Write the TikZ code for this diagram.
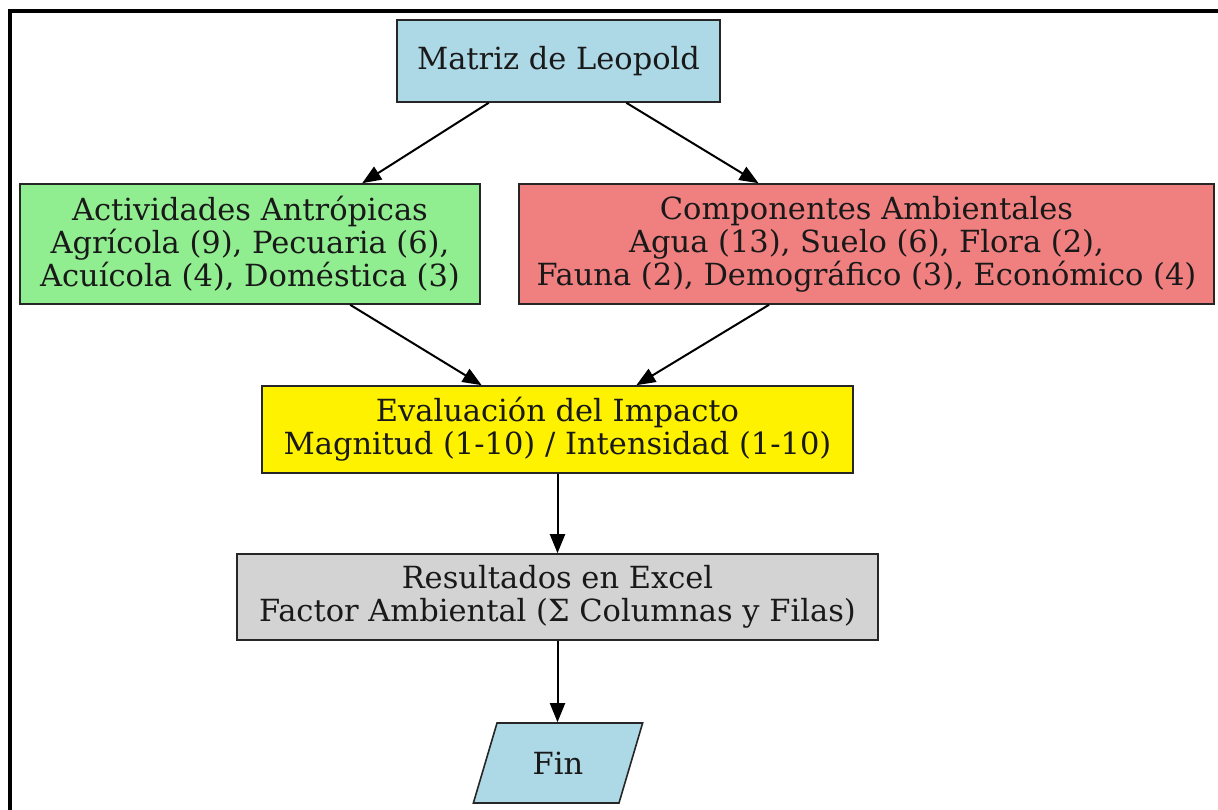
\documentclass[tikz,border=0pt]{standalone}
\usepackage{fontspec}
\setmainfont{DejaVu Serif}
\usetikzlibrary{arrows.meta,shapes.geometric,calc}
\definecolor{lb}{HTML}{ADD8E6}
\definecolor{lg}{HTML}{90EE90}
\definecolor{lc}{HTML}{F08080}
\definecolor{lgr}{HTML}{D3D3D3}
\begin{document}
\begin{tikzpicture}[x=1pt,y=-1pt,
  box/.style={draw=black!85, line width=1.6pt, align=center, inner sep=0pt, text=black!90, font=\fontsize{30.5}{33}\selectfont},
  conn/.style={line width=2pt, -{Triangle[length=19pt,width=15pt]}}]
\useasboundingbox (0,0) rectangle (1218,809);
\draw[line width=4pt] (10,815) -- (10,10.5) -- (1225,10.5);
\node[box, fill=lb, minimum width=323, minimum height=82] (m) at (558.5,61) {Matriz de Leopold};
\node[box, fill=lg, minimum width=460, minimum height=120] (a) at (250,244) {Actividades Antrópicas\\Agrícola (9), Pecuaria (6),\\Acuícola (4), Doméstica (3)};
\node[box, fill=lc, minimum width=695, minimum height=120] (c) at (866.5,244) {Componentes Ambientales\\Agua (13), Suelo (6), Flora (2),\\Fauna (2), Demográfico (3), Económico (4)};
\node[box, fill=yellow, minimum width=591, minimum height=87] (e) at (557.5,429.5) {Evaluación del Impacto\\Magnitud (1-10) / Intensidad (1-10)};
\node[box, fill=lgr, minimum width=641, minimum height=86] (r) at (557.5,597) {Resultados en Excel\\Factor Ambiental (Σ Columnas y Filas)};
\node[box, fill=lb, trapezium, trapezium left angle=66.4, trapezium right angle=113.6, trapezium stretches=true, minimum width=170, minimum height=80] (f) at (558,763) {Fin};
\draw[conn] ($(m.south west)!0.285!(m.south east)$) -- ($(a.north west)!0.743!(a.north east)$);
\draw[conn] ($(m.south west)!0.709!(m.south east)$) -- ($(c.north west)!0.345!(c.north east)$);
\draw[conn] ($(a.south west)!0.717!(a.south east)$) -- ($(e.north west)!0.372!(e.north east)$);
\draw[conn] ($(c.south west)!0.36!(c.south east)$) -- ($(e.north west)!0.633!(e.north east)$);
\draw[conn] (e.south) -- (r.north);
\draw[conn] (r.south) -- (r.south |- f.north);
\end{tikzpicture}
\end{document}
